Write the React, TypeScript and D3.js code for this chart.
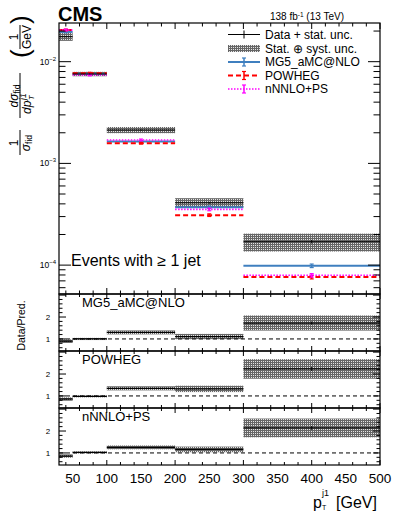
import React, { useEffect, useRef } from 'react';
import * as d3 from 'd3';

// leading jet pT bins [GeV]
const binEdges = [30, 50, 100, 200, 300, 500];

// normalised cross sections [1/GeV]
const dataValues = [0.0176, 0.00757, 0.00213, 0.00041, 0.00017];
const totalUnc = [0.09, 0.05, 0.07, 0.11, 0.2]; // relative, stat (+) syst
const statUnc = [0.01, 0.01, 0.015, 0.02, 0.04];

const mg5Values = [0.0196, 0.00757, 0.00164, 0.00037, 0.0000985];
const powhegValues = [0.0205, 0.0077, 0.00158, 0.00031, 0.0000762];
const nnloValues = [0.0205, 0.0074, 0.0017, 0.000353, 0.0000794];
const predUnc = [0.02, 0.02, 0.02, 0.03, 0.04];

const xTickLabels = [50, 100, 150, 200, 250, 300, 350, 400, 450, 500];
const yDecadeLabels = [-4, -3, -2];
const yRatioLabels = [1, 2];

const predictions = [
    { name: 'MG5_aMC@NLO', values: mg5Values, color: '#3f7fbf', dash: null, width: 2 },
    { name: 'POWHEG', values: powhegValues, color: '#ff0000', dash: '5,3', width: 2 },
    { name: 'nNNLO+PS', values: nnloValues, color: '#ff00ff', dash: '1.5,1.5', width: 1.6 },
];

const FONT = "'Liberation Sans', Arial, Helvetica, sans-serif";

export default function App() {
    const ref = useRef<SVGSVGElement>(null);

    useEffect(() => {
        const svg = d3.select(ref.current);
        svg.selectAll('*').remove();
        svg.style('font-family', FONT);

        const left = 59, right = 380;
        const mainTop = 23, mainBottom = 294;
        const ratioH = 57;

        const x = d3.scaleLinear().domain([30, 500]).range([left, right]);
        const y = d3.scaleLog().domain([5.2e-5, 0.024]).range([mainBottom, mainTop]);

        // hatched fill for the total uncertainty
        const defs = svg.append('defs');
        const pat = defs.append('pattern')
            .attr('id', 'hatch')
            .attr('patternUnits', 'userSpaceOnUse')
            .attr('width', 4)
            .attr('height', 4);
        pat.append('rect').attr('width', 4).attr('height', 4).attr('fill', '#666');
        [[1, 1], [3, 1], [1, 3], [3, 3]].forEach(([px, py]) => {
            pat.append('rect').attr('x', px).attr('y', py).attr('width', 1).attr('height', 1).attr('fill', '#e4e4e4');
        });

        const bins = dataValues.map((v, i) => ({ lo: binEdges[i], hi: binEdges[i + 1], v, i }));

        // ---------- main panel ----------
        const main = svg.append('g');

        main.selectAll('rect.unc')
            .data(bins)
            .join('rect')
            .attr('x', d => x(d.lo))
            .attr('width', d => x(d.hi) - x(d.lo))
            .attr('y', d => y(d.v * (1 + totalUnc[d.i])))
            .attr('height', d => y(d.v * (1 - totalUnc[d.i])) - y(d.v * (1 + totalUnc[d.i])))
            .attr('fill', 'url(#hatch)');

        predictions.forEach(p => {
            bins.forEach(b => {
                const pv = p.values[b.i];
                const cx = (x(b.lo) + x(b.hi)) / 2;
                const line = main.append('line')
                    .attr('x1', x(b.lo)).attr('x2', x(b.hi))
                    .attr('y1', y(pv)).attr('y2', y(pv))
                    .attr('stroke', p.color)
                    .attr('stroke-width', p.width);
                if (p.dash) line.attr('stroke-dasharray', p.dash);
                const y1 = y(pv * (1 + predUnc[b.i]));
                const y2 = y(pv * (1 - predUnc[b.i]));
                main.append('line').attr('x1', cx).attr('x2', cx).attr('y1', y1).attr('y2', y2)
                    .attr('stroke', p.color).attr('stroke-width', 1.5);
                [y1, y2].forEach(yy => main.append('line')
                    .attr('x1', cx - 2).attr('x2', cx + 2).attr('y1', yy).attr('y2', yy)
                    .attr('stroke', p.color).attr('stroke-width', 1.2));
            });
        });

        bins.forEach(b => {
            const cx = (x(b.lo) + x(b.hi)) / 2;
            main.append('line')
                .attr('x1', x(b.lo)).attr('x2', x(b.hi))
                .attr('y1', y(b.v)).attr('y2', y(b.v))
                .attr('stroke', 'black').attr('stroke-width', 1);
            main.append('line')
                .attr('x1', cx).attr('x2', cx)
                .attr('y1', y(b.v * (1 + statUnc[b.i]))).attr('y2', y(b.v * (1 - statUnc[b.i])))
                .attr('stroke', 'black').attr('stroke-width', 1);
        });

        // frame and ticks
        const xMinor = d3.range(2, 26).map(k => k * 20);
        const xMajor = [100, 200, 300, 400, 500];
        const drawXTicks = (g, top, bottom, majLen, minLen) => {
            xMinor.forEach(v => {
                const len = xMajor.includes(v) ? majLen : minLen;
                g.append('line').attr('x1', x(v)).attr('x2', x(v)).attr('y1', top).attr('y2', top + len)
                    .attr('stroke', 'black');
                g.append('line').attr('x1', x(v)).attr('x2', x(v)).attr('y1', bottom).attr('y2', bottom - len)
                    .attr('stroke', 'black');
            });
        };

        main.append('rect')
            .attr('x', left).attr('y', mainTop)
            .attr('width', right - left).attr('height', mainBottom - mainTop)
            .attr('fill', 'none').attr('stroke', 'black').attr('stroke-width', 1.2);
        drawXTicks(main, mainTop, mainBottom, 6, 3.5);

        const [yLo, yHi] = y.domain();
        for (let d = -5; d <= -1; d++) {
            for (let k = 1; k <= 9; k++) {
                const v = k * Math.pow(10, d);
                if (v < yLo || v > yHi) continue;
                const len = k === 1 ? 12 : 6.5;
                main.append('line').attr('x1', left).attr('x2', left + len).attr('y1', y(v)).attr('y2', y(v))
                    .attr('stroke', 'black');
                main.append('line').attr('x1', right).attr('x2', right - len).attr('y1', y(v)).attr('y2', y(v))
                    .attr('stroke', 'black');
            }
        }

        yDecadeLabels.forEach(e => {
            const t = main.append('text')
                .attr('x', 56).attr('y', y(Math.pow(10, e)) + 3)
                .attr('text-anchor', 'end')
                .style('font-size', '8.5px');
            t.append('tspan').text('10');
            t.append('tspan').attr('dy', -4).style('font-size', '6px').text('\u2212' + Math.abs(e));
        });

        // y-axis title: 1/sigma_fid dsigma_fid/dpT (1/GeV)
        const yt = svg.append('g').attr('transform', 'translate(20,156) rotate(-90)').style('font-size', '12px');
        yt.append('text').attr('x', 13).attr('y', -2.5).attr('text-anchor', 'middle').text('1');
        yt.append('line').attr('x1', 1).attr('x2', 26).attr('y1', 0).attr('y2', 0).attr('stroke', 'black');
        const den1 = yt.append('text').attr('x', 13).attr('y', 10).attr('text-anchor', 'middle');
        den1.append('tspan').style('font-style', 'italic').text('\u03c3');
        den1.append('tspan').attr('dy', 2).style('font-size', '8.5px').text('fid');

        const num2 = yt.append('text').attr('x', 60).attr('y', -2.5).attr('text-anchor', 'middle');
        num2.append('tspan').style('font-style', 'italic').text('d\u03c3');
        num2.append('tspan').attr('dy', 2).style('font-size', '8.5px').text('fid');
        yt.append('line').attr('x1', 38).attr('x2', 83).attr('y1', 0).attr('y2', 0).attr('stroke', 'black');
        yt.append('text').attr('x', 42).attr('y', 11).style('font-style', 'italic').text('dp');
        yt.append('text').attr('x', 56).attr('y', 6).style('font-size', '8.5px').style('font-style', 'italic').text('j1');
        yt.append('text').attr('x', 56).attr('y', 14).style('font-size', '7.5px').style('font-style', 'italic').text('T');

        yt.append('text').attr('x', 98).attr('y', 9).style('font-size', '26px').style('font-weight', '300').text('(');
        yt.append('text').attr('x', 119).attr('y', -2.5).attr('text-anchor', 'middle').text('1');
        yt.append('line').attr('x1', 107).attr('x2', 131).attr('y1', 0).attr('y2', 0).attr('stroke', 'black');
        yt.append('text').attr('x', 119).attr('y', 10.5).attr('text-anchor', 'middle').text('GeV');
        yt.append('text').attr('x', 132).attr('y', 9).style('font-size', '26px').style('font-weight', '300').text(')');

        // header
        svg.append('text').attr('x', 58).attr('y', 21)
            .style('font-size', '20px').style('font-weight', 'bold').text('CMS');
        const lumi = svg.append('text').attr('x', 270).attr('y', 20).style('font-size', '10px');
        lumi.append('tspan').text('138 fb');
        lumi.append('tspan').attr('dy', -3.5).style('font-size', '6.5px').text('-1');
        lumi.append('tspan').attr('dy', 3.5).text(' (13 TeV)');

        svg.append('text').attr('x', 71).attr('y', 266)
            .style('font-size', '16px').text('Events with \u2265 1 jet');

        // legend
        const lg = svg.append('g').style('font-size', '12px');
        const lx0 = 228, lx1 = 260, lcx = (lx0 + lx1) / 2;
        const rowY = [34.5, 48.5, 62, 75.5, 89];
        lg.append('line').attr('x1', lx0).attr('x2', lx1).attr('y1', rowY[0]).attr('y2', rowY[0]).attr('stroke', 'black');
        lg.append('line').attr('x1', lcx).attr('x2', lcx).attr('y1', rowY[0] - 4).attr('y2', rowY[0] + 4).attr('stroke', 'black');
        lg.append('text').attr('x', 265).attr('y', rowY[0] + 4).text('Data + stat. unc.');

        lg.append('rect').attr('x', lx0).attr('y', rowY[1] - 3.5).attr('width', lx1 - lx0).attr('height', 7)
            .attr('fill', 'url(#hatch)');
        lg.append('text').attr('x', 265).attr('y', rowY[1] + 4).text('Stat. \u2295 syst. unc.');

        predictions.forEach((p, i) => {
            const ry = rowY[i + 2];
            const l = lg.append('line').attr('x1', lx0).attr('x2', lx1).attr('y1', ry).attr('y2', ry)
                .attr('stroke', p.color).attr('stroke-width', p.width);
            if (p.dash) l.attr('stroke-dasharray', p.dash);
            lg.append('line').attr('x1', lcx).attr('x2', lcx).attr('y1', ry - 4).attr('y2', ry + 4)
                .attr('stroke', p.color).attr('stroke-width', 1.5);
            [ry - 4, ry + 4].forEach(yy => lg.append('line')
                .attr('x1', lcx - 2).attr('x2', lcx + 2).attr('y1', yy).attr('y2', yy)
                .attr('stroke', p.color).attr('stroke-width', 1.2));
            lg.append('text').attr('x', 265).attr('y', ry + 4).text(p.name);
        });

        // ---------- ratio panels ----------
        const yRatioMinor = d3.range(3, 16).map(k => k * 0.2);
        predictions.forEach((p, pi) => {
            const top = mainBottom + pi * ratioH;
            const bottom = top + ratioH;
            const yr = d3.scaleLinear().domain([0.45, 3.05]).range([bottom, top]);
            const g = svg.append('g');

            const ratios = bins.map(b => ({ ...b, r: b.v / p.values[b.i] }));

            g.selectAll('rect.unc')
                .data(ratios)
                .join('rect')
                .attr('x', d => x(d.lo))
                .attr('width', d => x(d.hi) - x(d.lo))
                .attr('y', d => yr(d.r * (1 + totalUnc[d.i])))
                .attr('height', d => yr(d.r * (1 - totalUnc[d.i])) - yr(d.r * (1 + totalUnc[d.i])))
                .attr('fill', 'url(#hatch)');

            g.append('line')
                .attr('x1', left).attr('x2', right)
                .attr('y1', yr(1)).attr('y2', yr(1))
                .attr('stroke', 'black').attr('stroke-dasharray', '4,3');

            ratios.forEach(d => {
                const cx = (x(d.lo) + x(d.hi)) / 2;
                g.append('line')
                    .attr('x1', x(d.lo)).attr('x2', x(d.hi))
                    .attr('y1', yr(d.r)).attr('y2', yr(d.r))
                    .attr('stroke', 'black').attr('stroke-width', 1.3);
                g.append('line')
                    .attr('x1', cx).attr('x2', cx)
                    .attr('y1', yr(d.r * (1 + statUnc[d.i]))).attr('y2', yr(d.r * (1 - statUnc[d.i])))
                    .attr('stroke', 'black');
            });

            g.append('rect')
                .attr('x', left).attr('y', top)
                .attr('width', right - left).attr('height', ratioH)
                .attr('fill', 'none').attr('stroke', 'black').attr('stroke-width', 1.2);
            drawXTicks(g, top, bottom, 5, 3);

            yRatioMinor.forEach(v => {
                const major = Math.abs(v - Math.round(v)) < 1e-6;
                const len = major ? 7 : 3.5;
                g.append('line').attr('x1', left).attr('x2', left + len).attr('y1', yr(v)).attr('y2', yr(v))
                    .attr('stroke', 'black');
                g.append('line').attr('x1', right).attr('x2', right - len).attr('y1', yr(v)).attr('y2', yr(v))
                    .attr('stroke', 'black');
            });

            yRatioLabels.forEach(v => {
                g.append('text').attr('x', 48).attr('y', yr(v) + 3)
                    .attr('text-anchor', 'middle').style('font-size', '8px').text(v);
            });

            g.append('text').attr('x', 82).attr('y', top + 13)
                .style('font-size', '13px').text(p.name);
        });

        svg.append('text')
            .attr('transform', `translate(25,${mainBottom + ratioH / 2 + 3}) rotate(-90)`)
            .attr('text-anchor', 'middle')
            .style('font-size', '10.5px')
            .text('Data/Pred.');

        // x axis labels
        const axisBottom = mainBottom + 3 * ratioH;
        xTickLabels.forEach(v => {
            svg.append('text').attr('x', x(v)).attr('y', axisBottom + 17.5)
                .attr('text-anchor', 'middle').style('font-size', '13.5px').text(v);
        });

        const xt = svg.append('g').style('font-size', '16px');
        xt.append('text').attr('x', 313).attr('y', 508).text('p');
        xt.append('text').attr('x', 322).attr('y', 496).style('font-size', '9px').text('j1');
        xt.append('text').attr('x', 322).attr('y', 510).style('font-size', '7px').text('T');
        xt.append('text').attr('x', 336).attr('y', 508).text('[GeV]');
    }, []);

    return (
        <svg ref={ref} width={399} height={518}
            style={{ position: 'absolute', left: 0, top: 0, background: 'white' }} />
    );
}
